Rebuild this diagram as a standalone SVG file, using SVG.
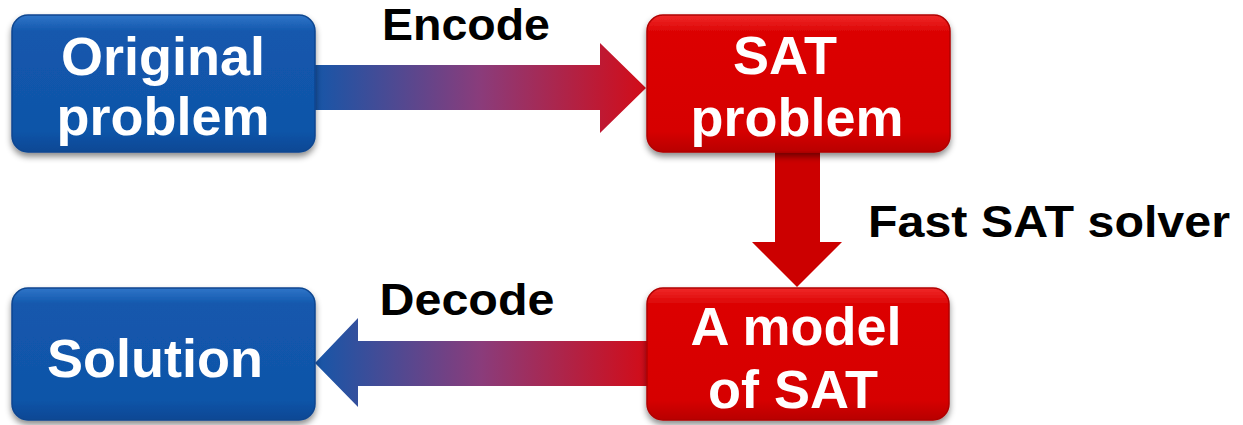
<svg xmlns="http://www.w3.org/2000/svg" width="1243" height="425" viewBox="0 0 1243 425">
  <style>
    .lbl { font-family: "Liberation Sans", Arial, sans-serif; font-weight: bold; fill: #000; font-size: 45px; }
    .node-text { font-family: "Liberation Sans", Arial, sans-serif; font-weight: bold; fill: #fff; font-size: 54px; text-anchor: middle; }
    .blue-box { fill: url(#blueFill); stroke: #0d4690; stroke-width: 1.5; filter: url(#shadow); }
    .red-box { fill: url(#redFill); stroke: #b00000; stroke-width: 1.5; filter: url(#shadow); }
  </style>
  <defs>
    <filter id="shadow" x="-10%" y="-10%" width="120%" height="130%">
      <feDropShadow dx="0" dy="4" stdDeviation="3" flood-color="#000" flood-opacity="0.45"/>
    </filter>
    <linearGradient id="blueFill" x1="0" y1="0" x2="0" y2="1">
      <stop offset="0" stop-color="#3075c8"/>
      <stop offset="0.12" stop-color="#1358ad"/>
      <stop offset="0.85" stop-color="#1054a8"/>
      <stop offset="1" stop-color="#0c4894"/>
    </linearGradient>
    <linearGradient id="redFill" x1="0" y1="0" x2="0" y2="1">
      <stop offset="0" stop-color="#f02a2a"/>
      <stop offset="0.12" stop-color="#dc0404"/>
      <stop offset="0.85" stop-color="#d60000"/>
      <stop offset="1" stop-color="#b80000"/>
    </linearGradient>
    <linearGradient id="encodeGrad" gradientUnits="userSpaceOnUse" x1="314" y1="0" x2="646" y2="0">
      <stop offset="0" stop-color="#1656a8"/>
      <stop offset="0.5" stop-color="#8a3c7b"/>
      <stop offset="1" stop-color="#d20c18"/>
    </linearGradient>
    <linearGradient id="decodeGrad" gradientUnits="userSpaceOnUse" x1="315" y1="0" x2="647" y2="0">
      <stop offset="0" stop-color="#1656a8"/>
      <stop offset="0.5" stop-color="#8a3c7b"/>
      <stop offset="1" stop-color="#d20c18"/>
    </linearGradient>
  </defs>

  <!-- connectors -->
  <g id="connectors">
    <!-- Encode: original problem to SAT problem -->
    <polygon fill="url(#encodeGrad)" points="312,65 600,65 600,43 646,88 600,133 600,110 312,110"/>
    <!-- Fast SAT solver: SAT problem to model -->
    <polygon fill="#cc0000" points="775,150 820,150 820,242 842,242 797,287 752,242 775,242"/>
    <!-- Decode: model to solution -->
    <polygon fill="url(#decodeGrad)" points="649,341 358,341 358,318 315,363 358,407 358,386 649,386"/>
    <text class="lbl" x="466" y="40" text-anchor="middle" textLength="168" lengthAdjust="spacingAndGlyphs">Encode</text>
    <text class="lbl" x="868" y="237" textLength="362" lengthAdjust="spacingAndGlyphs">Fast SAT solver</text>
    <text class="lbl" x="467" y="315" text-anchor="middle" textLength="175" lengthAdjust="spacingAndGlyphs">Decode</text>
  </g>

  <g id="original-problem">
    <rect class="blue-box" x="12" y="15" width="303" height="137" rx="16"/>
    <text class="node-text" x="163" y="75">Original</text>
    <text class="node-text" x="163" y="135">problem</text>
  </g>

  <g id="sat-problem">
    <rect class="red-box" x="647" y="15" width="303" height="137" rx="16"/>
    <text class="node-text" x="785" y="74">SAT</text>
    <text class="node-text" x="797" y="136">problem</text>
  </g>

  <g id="sat-model">
    <rect class="red-box" x="647" y="288" width="302" height="132" rx="16"/>
    <text class="node-text" x="796" y="345">A model</text>
    <text class="node-text" x="793" y="408">of SAT</text>
  </g>

  <g id="solution">
    <rect class="blue-box" x="12" y="288" width="303" height="132" rx="16"/>
    <text class="node-text" x="155" y="377">Solution</text>
  </g>
</svg>
